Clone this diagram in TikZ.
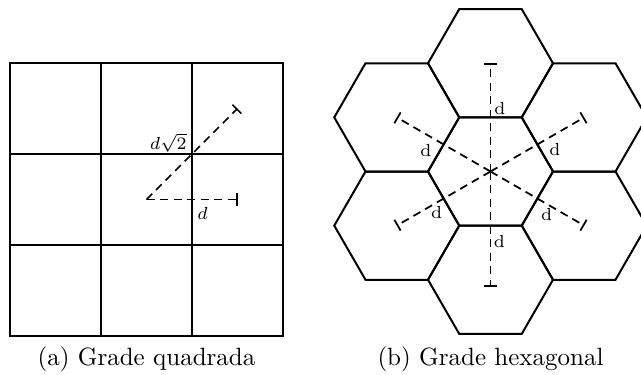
\documentclass[tikz,border=0pt]{standalone}
\usetikzlibrary{shapes.geometric,arrows.meta}

\begin{document}
\begin{tikzpicture}[
  x=0.4pt, y=-0.4pt,
  cell/.style={draw, line width=0.8pt, minimum size=36.4pt, inner sep=0pt},
  hexcell/.style={draw, line width=0.8pt, regular polygon, regular polygon sides=6, minimum size=50pt, inner sep=0pt},
  dimline/.style={dash pattern=on 3.2pt off 2.2pt, line width=0.7pt, -{Bar[width=5pt]}},
  lbl/.style={font=\scriptsize, inner sep=0pt},
  caption/.style={font=\normalsize, inner sep=0pt}
]
\useasboundingbox (0,0) rectangle (641,374);

% grade quadrada
\node[cell] (q11) at (55.5,108.5) {};
\node[cell] (q12) at (146.5,108.5) {};
\node[cell] (q13) at (237.5,108.5) {};
\node[cell] (q21) at (55.5,199.5) {};
\node[cell] (q22) at (146.5,199.5) {};
\node[cell] (q23) at (237.5,199.5) {};
\node[cell] (q31) at (55.5,290.5) {};
\node[cell] (q32) at (146.5,290.5) {};
\node[cell] (q33) at (237.5,290.5) {};

\draw[dimline] (q22.center) -- (q23.center);
\draw[dimline] (q22.center) -- (q13.center);
\node[lbl] (qdiag) at (168.3,142.7) {$d\sqrt{2}$};
\node[lbl] (qside) at (202.7,213.3) {$d$};

% grade hexagonal
\node[hexcell] (hc) at (490.5,171.5) {};
\node[hexcell] (hn) at (490.5,63.25) {};
\node[hexcell] (hs) at (490.5,279.75) {};
\node[hexcell] (hnw) at (396.75,117.375) {};
\node[hexcell] (hne) at (584.25,117.375) {};
\node[hexcell] (hsw) at (396.75,225.625) {};
\node[hexcell] (hse) at (584.25,225.625) {};

\draw[dimline] (hc.center) -- (hn.center);
\draw[dimline, shorten >=-2.8pt] (hc.center) -- (hs.center);
\draw[dimline] (hc.center) -- (hnw.center);
\draw[dimline] (hc.center) -- (hne.center);
\draw[dimline] (hc.center) -- (hsw.center);
\draw[dimline] (hc.center) -- (hse.center);

\node[lbl] (dn) at (500,108.3) {d};
\node[lbl] (ds) at (499.3,241.7) {d};
\node[lbl] (dnw) at (426,150.7) {d};
\node[lbl] (dne) at (555,150) {d};
\node[lbl] (dsw) at (436.7,212.7) {d};
\node[lbl] (dse) at (546.7,215) {d};

\node[caption] (capa) at (146.5,359) {(a) Grade quadrada};
\node[caption] (capb) at (490.5,359) {(b) Grade hexagonal};
\end{tikzpicture}
\end{document}
